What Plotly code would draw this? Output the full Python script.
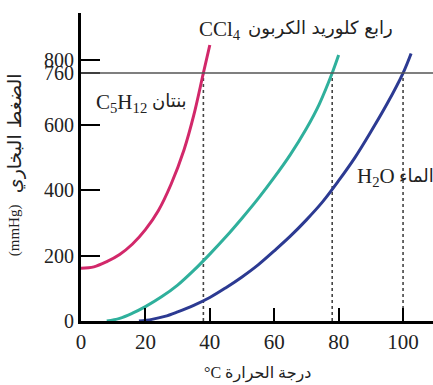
import plotly.graph_objects as go

# ---- data ----
pentane_t = [0, 4, 8, 12, 16, 20, 24, 28, 32, 35, 38, 40]
pentane_p = [162, 166, 182, 204, 236, 280, 338, 420, 525, 630, 760, 846]

ccl4_t = [8, 12, 16, 20, 25, 30, 35, 40, 45, 50, 55, 60, 65, 70, 74, 78, 80]
ccl4_p = [0, 8, 24, 44, 74, 110, 155, 205, 258, 315, 375, 440, 510, 590, 665, 760, 815]

water_t = [18, 22, 26, 30, 35, 40, 45, 50, 55, 60, 65, 70, 75, 80, 85, 90, 95, 100, 102.5]
water_p = [0, 5, 14, 28, 48, 72, 102, 135, 172, 215, 260, 310, 365, 430, 500, 580, 665, 760, 820]

boiling_t = [38, 78, 100]
atm_p = 760

x_ticks = [0, 20, 40, 60, 80, 100]
y_ticks = [0, 200, 400, 600, 760, 800]

colors = ["#d2286a", "#2fb09c", "#2c3a92"]
SERIF = "Liberation Serif, Times New Roman, DejaVu Sans, serif"
ARABIC = "DejaVu Sans, sans-serif"

fig = go.Figure()

# dotted boiling-point guides
for bt in boiling_t:
    fig.add_trace(go.Scatter(x=[bt, bt], y=[0, atm_p], mode="lines",
                             line=dict(color="#444444", width=1.6, dash="dot"),
                             hoverinfo="skip", showlegend=False))

for t, p, c in [(pentane_t, pentane_p, colors[0]),
                (ccl4_t, ccl4_p, colors[1]),
                (water_t, water_p, colors[2])]:
    fig.add_trace(go.Scatter(x=t, y=p, mode="lines", line_shape="spline",
                             line=dict(color=c, width=3), showlegend=False))

# 760 mmHg line
fig.add_shape(type="line", xref="paper", x0=0, x1=1, yref="y", y0=atm_p, y1=atm_p,
              line=dict(color="#555555", width=1.5))

ann_font = dict(family=SERIF, size=21, color="#222222")
ar_font = dict(family=ARABIC, size=18, color="#222222")

annotations = [
    dict(x=36, y=892, text="CCl<sub>4</sub>", xanchor="left", font=ann_font),
    dict(x=97.5, y=898, text="رابع كلوريد الكربون", xanchor="right", font=ar_font),
    dict(x=4, y=668, text="C<sub>5</sub>H<sub>12</sub>", xanchor="left", font=ann_font),
    dict(x=33.6, y=676, text="بنتان", xanchor="right", font=ar_font),
    dict(x=85, y=441, text="H<sub>2</sub>O", xanchor="left", font=ann_font),
    dict(x=98.2, y=445, text="الماء", xanchor="left", font=ar_font),
]
for a in annotations:
    a.update(xref="x", yref="y", showarrow=False, yanchor="middle")

# axis titles
annotations += [
    dict(xref="paper", yref="paper", x=-0.19, y=0.295, text="(mmHg)", textangle=-90,
         xanchor="center", yanchor="middle", showarrow=False,
         font=dict(family=SERIF, size=15, color="#222222")),
    dict(xref="paper", yref="paper", x=-0.19, y=0.61, text="الضغط البخاري", textangle=-90,
         xanchor="center", yanchor="middle", showarrow=False,
         font=dict(family=ARABIC, size=19, color="#222222")),
    dict(xref="paper", yref="paper", x=0.5, y=-0.172, text="°C درجة الحرارة",
         xanchor="center", yanchor="middle", showarrow=False,
         font=dict(family="Liberation Serif, DejaVu Sans, serif", size=16, color="#222222")),
]

fig.update_layout(
    width=433, height=385,
    margin=dict(l=81, r=0, t=13, b=64),
    paper_bgcolor="white", plot_bgcolor="white",
    annotations=annotations,
    xaxis=dict(range=[0, 109.3], tickvals=x_ticks, ticktext=[str(v) for v in x_ticks],
               ticks="inside", ticklen=13, tickwidth=1.8, tickcolor="black",
               showline=True, linewidth=3, linecolor="black", showgrid=False, zeroline=False,
               tickfont=dict(family=SERIF, size=21, color="#222222")),
    yaxis=dict(range=[0, 944], tickvals=y_ticks, ticktext=[str(v) for v in y_ticks],
               ticks="inside", ticklen=19, tickwidth=1.8, tickcolor="black",
               showline=True, linewidth=3, linecolor="black", showgrid=False, zeroline=False,
               tickfont=dict(family=SERIF, size=20, color="#222222")),
)

fig.write_html("out.html", config={"displayModeBar": False},
               post_script="document.body.style.margin='0px';document.body.style.overflow='hidden';")
